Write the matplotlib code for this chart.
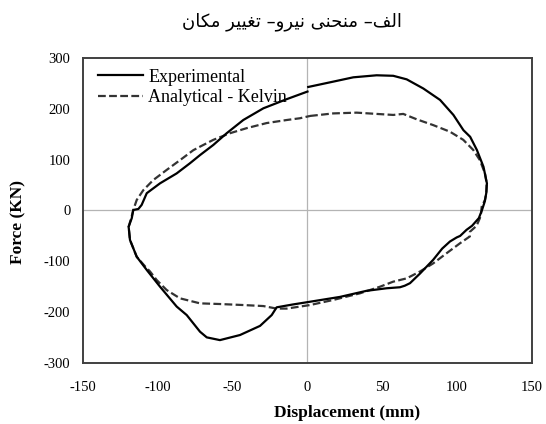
import numpy as np
import matplotlib
matplotlib.use('Agg')
import matplotlib.pyplot as plt

# Datos (desplazamiento en mm, fuerza en KN)
exp_x = [0.5, 17.2, 30.6, 46.2, 57.3, 66.3, 77.4, 88.6, 97.5, 104.2, 108.7, 113.2,
         117.6, 119.9, 119.5, 118.5, 116.5, 114.5, 110.0, 106.3, 102.0, 99.7, 95.2,
         90.0, 84.0, 75.2, 68.5, 65.0, 61.8, 52.9, 39.5, 21.7, 1.7, -10.0, -20.6,
         -23.9, -31.7, -45.1, -58.5, -67.3, -71.8, -80.7, -87.4, -98.5, -107.4,
         -114.1, -118.6, -119.5, -117.4, -116.4, -113.0, -110.8, -107.4, -98.5,
         -87.4, -78.5, -71.8, -62.9, -54.0, -42.9, -29.5, -13.9, 0.0]
exp_y = [243, 253.5, 262, 266, 265, 258, 240, 217.5, 188, 158, 145, 119,
         86, 53.5, 35, 18, 0, -15, -30, -38, -50, -53, -61,
         -75, -97, -124, -143, -148, -151, -153, -158, -170, -179.5, -185, -190.5,
         -205.7, -227, -245, -255, -249.6, -238.5, -205.7, -189, -150, -117,
         -91, -58, -32, -15, 1, 3, 11, 34, 53.5,
         73, 93, 109, 129, 152, 178, 201, 219, 234]

ana_x = [1.7, 17.2, 32.9, 46.2, 57.3, 64.0, 72.9, 84.0, 95.2, 104.1, 110.8, 115.2,
         118.6, 119.7, 119.5, 118.6, 116.4, 116.0, 115.2, 113.0, 108.5, 108.5, 101.9,
         93.0, 84.0, 75.2, 66.3, 57.3, 48.4, 35.0, 17.2, 1.7, -13.9, -20.6, -29.5,
         -42.9, -58.5, -71.8, -85.2, -94.1, -100.7, -105.2, -108.5, -114.1, -118.6,
         -119.5, -117.5, -116.4, -114.1, -109.7, -103.0, -94.0, -85.2, -76.3, -71.8,
         -62.9, -51.8, -40.6, -27.3, -13.9, -5.0, 1.7]
ana_y = [186, 191, 192.5, 190, 188, 190, 179.5, 168, 155, 139, 119, 99,
         73, 53.5, 35, 21, 7.5, -5, -15, -30, -42, -51, -64.5,
         -84, -104, -120, -133.5, -140, -150, -163, -176, -186, -193, -193, -188,
         -186, -184, -182.7, -172.8, -156.5, -137, -120, -110, -91, -58,
         -32, -12, 1, 20.7, 40, 60, 80, 99, 118.6, 125.6,
         139, 152, 162, 172, 178, 181.5, 186]

xticks = [-150, -100, -50, 0, 50, 100, 150]
yticks = [-300, -200, -100, 0, 100, 200, 300]

titulo = 'الف– منحنی نیرو– تغییر مکان'

# formas de presentacion arabes (aislada, final, inicial, media)
FORMAS = {
    'ا': ('\uFE8D', '\uFE8E', None, None),
    'ر': ('\uFEAD', '\uFEAE', None, None),
    'و': ('\uFEED', '\uFEEE', None, None),
    'ل': ('\uFEDD', '\uFEDE', '\uFEDF', '\uFEE0'),
    'ف': ('\uFED1', '\uFED2', '\uFED3', '\uFED4'),
    'م': ('\uFEE1', '\uFEE2', '\uFEE3', '\uFEE4'),
    'ن': ('\uFEE5', '\uFEE6', '\uFEE7', '\uFEE8'),
    'ح': ('\uFEA1', '\uFEA2', '\uFEA3', '\uFEA4'),
    'ت': ('\uFE95', '\uFE96', '\uFE97', '\uFE98'),
    'غ': ('\uFECD', '\uFECE', '\uFECF', '\uFED0'),
    'ی': ('\uFBFC', '\uFBFD', '\uFBFE', '\uFBFF'),
    'ک': ('\uFB8E', '\uFB8F', '\uFB90', '\uFB91'),
}


def dar_forma(s):
    out = []
    for i, c in enumerate(s):
        if c not in FORMAS:
            out.append(c)
            continue
        prev = s[i - 1] if i > 0 else ''
        nxt = s[i + 1] if i + 1 < len(s) else ''
        une_antes = prev in FORMAS and FORMAS[prev][2] is not None
        une_despues = nxt in FORMAS and FORMAS[c][2] is not None
        iso, fin, ini, med = FORMAS[c]
        if une_antes and une_despues:
            out.append(med)
        elif une_antes:
            out.append(fin)
        elif une_despues:
            out.append(ini)
        else:
            out.append(iso)
    return ''.join(out[::-1])


plt.rcParams['font.family'] = ['Liberation Serif', 'DejaVu Sans']
plt.rcParams['axes.unicode_minus'] = False

fig = plt.figure(figsize=(5.46, 4.24), dpi=100, facecolor='w')
ax = fig.add_axes([0.152, 0.1439, 0.8223, 0.7193])

ax.axhline(0, color='#b4b4b4', lw=0.9, zorder=1)
ax.axvline(0, color='#b4b4b4', lw=0.9, zorder=1)

ax.plot(exp_x, exp_y, color='k', lw=1.6, label='Experimental', zorder=3)
ax.plot(ana_x, ana_y, color='#333333', lw=1.6, ls=(0, (3.5, 1.5)),
        label='Analytical - Kelvin', zorder=2)

ax.set_xlim(-150, 150)
ax.set_ylim(-300, 300)
ax.set_xticks(xticks)
ax.set_yticks(yticks)
ax.tick_params(length=0, labelsize=10.5)
ax.tick_params(axis='x', pad=13)
ax.tick_params(axis='y', pad=9)

for sp in ax.spines.values():
    sp.set_color('#404040')
    sp.set_linewidth(1.4)

ax.set_xlabel('Displacement (mm)', fontsize=12.5, fontweight='bold')
ax.xaxis.set_label_coords(0.588, -0.138)
ax.set_ylabel('Force (KN)', fontsize=12.5, fontweight='bold')
ax.yaxis.set_label_coords(-0.125, 0.462)

ax.legend(loc='upper left', bbox_to_anchor=(0.033, 0.965), frameon=False,
          fontsize=13, handlelength=2.5, handletextpad=0.3, labelspacing=0.18,
          borderpad=0, borderaxespad=0)

fig.text(0.535, 0.948, dar_forma(titulo), ha='center', va='center',
         fontsize=13, family='DejaVu Sans')

fig.savefig('out.png', dpi=100)
